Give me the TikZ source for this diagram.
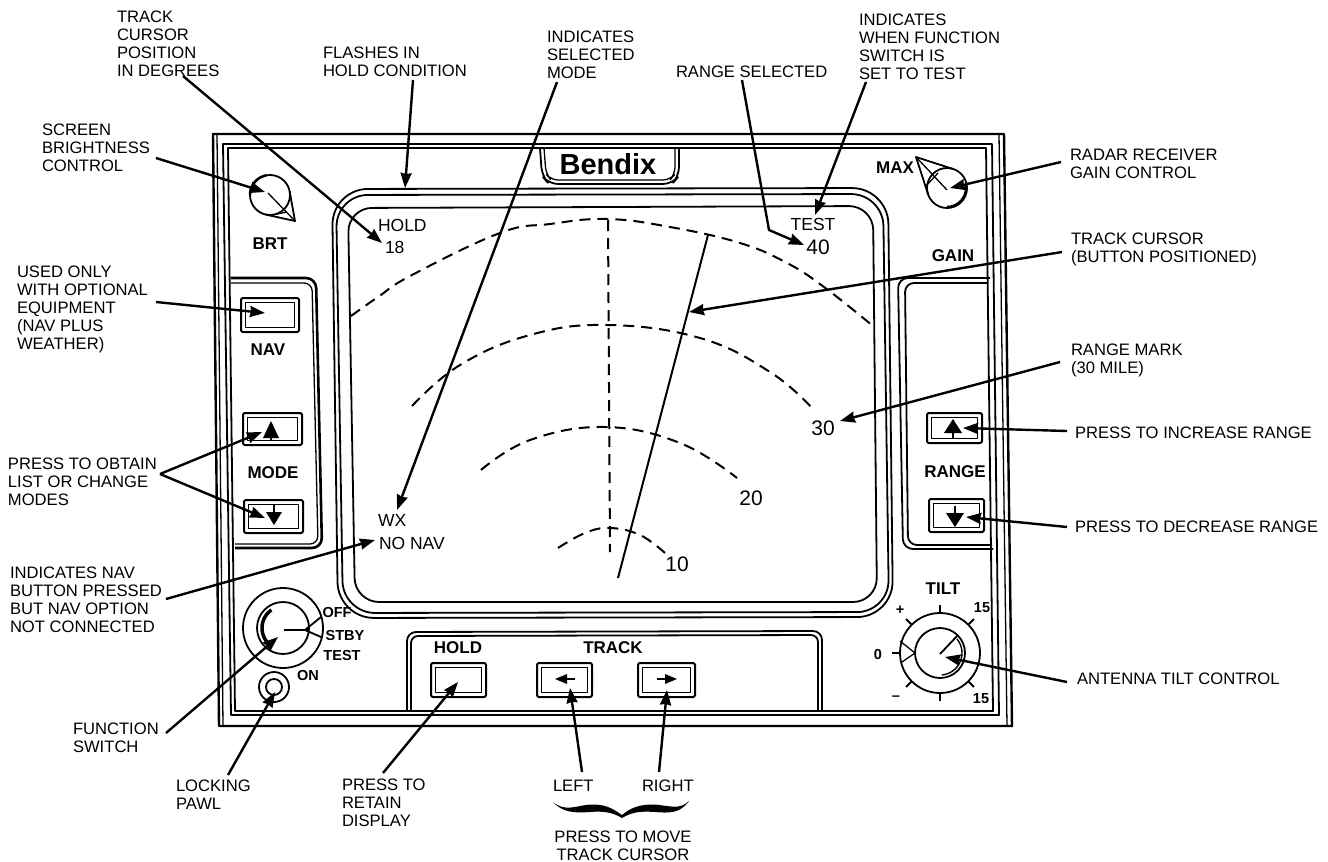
\documentclass[tikz,border=0pt]{standalone}
\usepackage{fontspec}
\setmainfont{Liberation Sans}
\usetikzlibrary{arrows.meta,calc}
\newcommand{\btnbox}[4]{\draw[line width=2pt,rounded corners=2pt] (#1,#2) rectangle (#3,#4);
  \draw[line width=1.8pt] ({#1+4.5},{#2+4.5}) rectangle ({#3-4.5},{#4-4.5});}
\newcommand{\tarc}[6][2.5pt]{\draw[line width=#1] plot[domain=#5:#6,samples=24,smooth] ({#2+#4*cos(\x)},{#3+#4*sin(\x)});}
\tikzset{
  lbl/.style={font=\fontsize{16.6}{18}\selectfont,align=left,anchor=north west,inner sep=0pt,outer sep=0pt},
  plbl/.style={font=\fontsize{17}{19}\selectfont\bfseries,inner sep=0pt,outer sep=0pt,align=center},
  klbl/.style={font=\fontsize{14.5}{17}\selectfont\bfseries,inner sep=0pt,outer sep=0pt,align=center},
  slbl/.style={font=\fontsize{17.5}{21}\selectfont,inner sep=0pt,outer sep=0pt,align=left},
  bignum/.style={font=\fontsize{21}{23}\selectfont,inner sep=0pt,outer sep=0pt},
  arr/.style={line width=2.4pt,-{Stealth[length=15pt,width=11pt,inset=1pt]}},
  frame/.style={line width=1.8pt},
  thin frame/.style={line width=1.3pt},
  dash arc/.style={line width=2pt,dash pattern=on 11pt off 7pt}
}
\begin{document}
\begin{tikzpicture}[x=1pt,y=-1pt,line join=round]
\useasboundingbox (0,0) rectangle (1328,862);
\fill[white] (0,0) rectangle (1328,862);
% instrument frame
\draw[line width=2.4pt] (213,134) -- (1004,134) -- (1012,726) -- (219,726) -- cycle;
\draw[thin frame] (217,134) -- (223,726);
\draw[thin frame] (999,134) -- (1007,726);
\draw[frame] (223,144) -- (992,144) -- (999,715) -- (231,715) -- cycle;
\draw[frame] (228,148) -- (986,148) -- (993,711) -- (235,711) -- cycle;
% screen
\draw[frame,rounded corners=36pt] (332,189) -- (888,188) -- (893,617) -- (338,618) -- cycle;
\draw[frame,rounded corners=32pt] (336,195) -- (883,194) -- (889,612) -- (343,613) -- cycle;
\draw[frame,rounded corners=24pt] (348,208) -- (873,206) -- (877,602) -- (355,602) -- cycle;
% Bendix tab
\draw[frame,rounded corners=9pt] (540,148) -- (542,176) -- (549,184) -- (672,184) -- (679,176) -- (679,148);
\draw[thin frame,rounded corners=7pt] (544,148) -- (546,174) -- (551,180) -- (670,180) -- (675,174) -- (675,148);
\node[inner sep=0pt,font=\fontsize{29}{30}\selectfont\bfseries] (bendix) at (608,164) {Bendix};
% side panels
\draw[line width=2.6pt,rounded corners=10pt] (231,278) -- (316,278) -- (322,548) -- (235,548);
\draw[thin frame,rounded corners=8pt] (231,283) -- (312,283) -- (318,544) -- (235,544);
\draw[frame,rounded corners=10pt] (990,278) -- (898,278) -- (903,549) -- (993,549);
\draw[frame,rounded corners=9pt] (988,283) -- (905,283) -- (908,545) -- (992,545);
% bottom panel
\draw[frame,rounded corners=9pt] (407,711) -- (407,632) -- (822,631) -- (822,711);
\draw[frame,rounded corners=7pt] (411,711) -- (411,636) -- (818,635) -- (818,711);
% buttons
\btnbox{241}{298}{299}{332}
\btnbox{243}{413}{302}{445}
\btnbox{244}{500}{303}{533}
\btnbox{927}{413}{982}{443}
\btnbox{929}{499}{984}{532}
\btnbox{431}{663}{486}{697}
\btnbox{537}{663}{592}{697}
\btnbox{638}{663}{695}{697}
% button glyphs
\fill (271,421) -- (279,438) -- (263,438) -- cycle; \draw[line width=2pt] (271,436) -- (271,441);
\fill (274,525) -- (282,512) -- (266,512) -- cycle; \draw[line width=2pt] (274,505) -- (274,514);
\fill (953,419) -- (962,433) -- (944,433) -- cycle; \draw[line width=2pt] (953,431) -- (953,438);
\fill (955,527) -- (964,513) -- (946,513) -- cycle; \draw[line width=2pt] (955,506) -- (955,515);
\fill (555,679) -- (567,674) -- (567,684) -- cycle; \draw[line width=2pt] (565,679) -- (575,679);
\fill (677,679) -- (665,674) -- (665,684) -- cycle; \draw[line width=2pt] (657,679) -- (667,679);
% BRT knob
\draw[frame] (270,195) circle (20);
\draw[frame] (289.7,191.5) -- (295,221) -- (265.8,214.6);
\draw[thin frame] (268,193) -- (295,221);
\draw[thin frame] (277,214) -- (287,212);
\tarc{270}{195}{20}{180}{260}
% MAX knob
\draw[frame] (947,188) circle (20);
\draw[frame] (953,169) -- (916,157) -- (928,194);
\draw[thin frame] (947,190) -- (916,157);
\draw[thin frame] (925,187) -- (938,173);
\tarc{947}{188}{19}{-10}{90}
% function switch
\draw[frame] (283,628) circle (40);
\draw[frame] (283,628) circle (26);
\tarc[3.5pt]{284}{628}{22}{125}{235}
\draw[frame] (284,630) -- (308,630);
\draw[frame] (305,630) -- (321,617);
\draw[frame] (305,630) -- (321,637);
% locking pawl
\draw[frame] (274,687) circle (15);
\draw[frame] (274,687) circle (8);
% tilt knob
\draw[frame] (940,653) circle (40);
\draw[frame] (940,653) circle (25);
\tarc[1.4pt]{940}{653}{22}{-40}{85}
\draw[frame] (940,654) -- (958,635);
\foreach \a in {-135,-90,-45,45,90,135,180}{
  \draw[frame] ({940+40*cos(\a)},{653+40*sin(\a)}) -- ({940+48*cos(\a)},{653+48*sin(\a)});
}
\draw[thin frame] (900,641) -- (915,653) -- (902,662);
% dashed range arcs and cursor
\draw[dash arc] plot[smooth,tension=0.7] coordinates {(351,316) (378,297) (412,275) (500,233) (550,224) (607,219) (670,227) (740,243) (787,263) (824,287) (873,326)};
\draw[dash arc] plot[smooth,tension=0.7] coordinates {(412,406) (460,365) (530,335) (607,325) (700,338) (770,372) (812,408)};
\draw[dash arc] plot[smooth,tension=0.7] coordinates {(481,470) (530,440) (605,427) (680,443) (737,478)};
\draw[dash arc] plot[smooth,tension=0.7] coordinates {(558,548) (585,533) (610,528) (640,535) (665,553)};
\draw[dash arc] (608,220) -- (610,552);
\draw[line width=2pt] (618,578) -- (708,235);
% screen text
\node[slbl,anchor=west] (shold) at (378,225) {HOLD};
\node[slbl,anchor=west] (sdeg) at (385,247) {18};
\node[slbl] (stest) at (813,224) {TEST};
\node[bignum] (s40) at (818,247) {40};
\node[slbl,anchor=west] (swx) at (378,520) {WX};
\node[slbl,anchor=west] (snonav) at (379,543) {NO NAV};
\node[bignum] (s30) at (823,428) {30};
\node[bignum] (s20) at (751,498) {20};
\node[bignum] (s10) at (677,564) {10};
% panel labels
\node[plbl] (pbrt) at (270,244) {BRT};
\node[plbl] (pmax) at (895,168) {MAX};
\node[plbl] (pgain) at (953,256) {GAIN};
\node[plbl] (pnav) at (268,350) {NAV};
\node[plbl] (pmode) at (273,473) {MODE};
\node[plbl] (prange) at (955,472) {RANGE};
\node[plbl] (phold) at (458,648) {HOLD};
\node[plbl] (ptrack) at (613,648) {TRACK};
\node[plbl] (ptilt) at (943,589) {TILT};
\node[klbl] (pplus) at (900,610) {+};
\node[klbl] (p15a) at (982,608) {15};
\node[klbl] (pzero) at (878,655) {0};
\node[klbl] (pminus) at (896,698) {\textendash};
\node[klbl] (p15b) at (981,699) {15};
\node[klbl] (poff) at (337,613) {OFF};
\node[klbl] (pstby) at (345,636) {STBY};
\node[klbl] (ptest) at (342,656) {TEST};
\node[klbl] (pon) at (308,676) {ON};
% callout labels
\node[lbl] (l1) at (117,11) {TRACK\\CURSOR\\POSITION\\IN DEGREES};
\node[lbl] (l2) at (323,47) {FLASHES IN\\HOLD CONDITION};
\node[lbl] (l3) at (547,31) {INDICATES\\SELECTED\\MODE};
\node[lbl] (l4) at (676,66) {RANGE SELECTED};
\node[lbl] (l5) at (859,14) {INDICATES\\WHEN FUNCTION\\SWITCH IS\\SET TO TEST};
\node[lbl] (l6) at (42,124) {SCREEN\\BRIGHTNESS\\CONTROL};
\node[lbl] (l7) at (1070,149) {RADAR RECEIVER\\GAIN CONTROL};
\node[lbl] (l8) at (1071,233) {TRACK CURSOR\\(BUTTON POSITIONED)};
\node[lbl] (l9) at (17,266) {USED ONLY\\WITH OPTIONAL\\EQUIPMENT\\(NAV PLUS\\WEATHER)};
\node[lbl] (l10) at (8,458) {PRESS TO OBTAIN\\LIST OR CHANGE\\MODES};
\node[lbl] (l11) at (10,567) {INDICATES NAV\\BUTTON PRESSED\\BUT NAV OPTION\\NOT CONNECTED};
\node[lbl] (l12) at (73,723) {FUNCTION\\SWITCH};
\node[lbl] (l13) at (176,780) {LOCKING\\PAWL};
\node[lbl] (l14) at (342,779) {PRESS TO\\RETAIN\\DISPLAY};
\node[lbl] (l15) at (553,780) {LEFT};
\node[lbl] (l16) at (642,780) {RIGHT};
\node[lbl,align=center,anchor=north] (l17) at (623,831) {PRESS TO MOVE\\TRACK CURSOR};
\node[lbl] (l18) at (1071,344) {RANGE MARK\\(30 MILE)};
\node[lbl] (l19) at (1075,427) {PRESS TO INCREASE RANGE};
\node[lbl] (l20) at (1075,521) {PRESS TO DECREASE RANGE};
\node[lbl] (l21) at (1077,673) {ANTENNA TILT CONTROL};
% brace
\fill (553,802) .. controls (565,812) and (575,806) .. (590,804.5) .. controls (605,804) and (612,808) .. (622,815) .. controls (630,808) and (640,804) .. (655,804.5) .. controls (670,806) and (680,810) .. (689,801) .. controls (680,814) and (668,813) .. (655,812) .. controls (640,811) and (632,812) .. (622,818) .. controls (612,812) and (603,811) .. (590,812) .. controls (575,813) and (563,813) .. (553,802) -- cycle;
% connector ends
\coordinate (t1) at (183,76); \coordinate (h1) at (382,243);
\coordinate (t2) at (413,80); \coordinate (h2) at (405,188);
\coordinate (t3) at (557,82); \coordinate (h3) at (397,510);
\coordinate (t4) at (742,80); \coordinate (m4) at (769,230); \coordinate (h4) at (804,245);
\coordinate (t5) at (866,82); \coordinate (h5) at (815,215);
\coordinate (t6) at (156,158); \coordinate (h6) at (265,192);
\coordinate (t7) at (1061,162); \coordinate (h7) at (950,188);
\coordinate (t8) at (1062,252); \coordinate (h8) at (689,312);
\coordinate (t9) at (156,302); \coordinate (h9) at (265,313);
\coordinate (t10) at (160,474); \coordinate (h10) at (262,432); \coordinate (h10b) at (265,518);
\coordinate (t11) at (166,599); \coordinate (h11) at (375,540);
\coordinate (t12) at (166,733); \coordinate (h12) at (278,637);
\coordinate (t13) at (228,775); \coordinate (h13) at (275,692);
\coordinate (t14) at (383,773); \coordinate (h14) at (458,682);
\coordinate (t15) at (582,772); \coordinate (h15) at (570,688);
\coordinate (t16) at (659,772); \coordinate (h16) at (667,690);
\coordinate (t18) at (1060,362); \coordinate (h18) at (840,421);
\coordinate (t19) at (1067,431); \coordinate (h19) at (963,428);
\coordinate (t20) at (1067,527); \coordinate (h20) at (966,517);
\coordinate (t21) at (1067,682); \coordinate (h21) at (945,657);
\foreach \n in {1,2,3,5,6,7,8,9,10,11,12,13,14,15,16,18,19,20,21}{\draw[arr] (t\n) -- (h\n);}
\draw[arr] (t10) -- (h10b);
\draw[arr] (t4) -- (m4) -- (h4);
\end{tikzpicture}
\end{document}
